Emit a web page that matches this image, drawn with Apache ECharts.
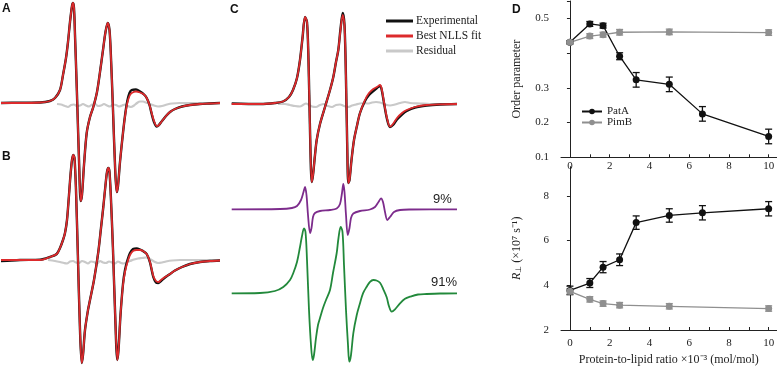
<!DOCTYPE html>
<html>
<head>
<meta charset="utf-8">
<script src="https://cdn.jsdelivr.net/npm/echarts@6/dist/echarts.min.js"></script>
<style>
  html, body { margin: 0; background: #fff; }
  #chart { width: 780px; height: 367px; }
</style>
</head>
<body>
<div id="chart"></div>
<script>
// EPR spectra, [field, intensity above the trace baseline]
const fitA = [[1,0],[20,0],[40,0.5],[50,2],[55,5],[60,13],[63,28],[66,45],[68,61],[70,81],[72,97],[73,100],[74,95],[75,68],[77,8],[79,-57],[80.7,-98],[82,-92],[84,-62],[86.7,-30],[90,-14],[93.3,-4],[97,11],[100,31],[103,53],[105.5,71],[107.7,80],[109.5,73],[111,45],[113,-7],[115,-62],[116.7,-89],[118,-83],[120,-59],[123.3,-27],[125.5,-10],[127.3,0],[129.5,7],[131.7,10],[136,11.5],[140,10.5],[144,8.5],[146.7,5],[149.5,-2],[151.7,-10],[154,-18],[156.7,-23],[158.5,-22.5],[162,-18],[166,-13],[170,-9],[175,-6],[182,-3.5],[190,-2],[200,-1],[210,-0.5],[220,0]];
const expA = [[1,0],[20,0.3],[40,0.5],[50,2],[55,5],[60,13],[63,28],[66,45],[68,61],[70,81],[72,97],[73,100],[74,95],[75,68],[77,8],[79,-57],[80.7,-98],[82,-92],[84,-62],[86.7,-30],[90,-14],[93.3,-4],[97,11],[100,31],[103,53],[105.5,71],[107.7,80],[109.5,73],[111,45],[113,-7],[115,-62],[116.7,-89],[118,-83],[120,-59],[123.3,-27],[125.5,-9],[127.3,2],[129.5,10],[131.7,13],[136,13.5],[140,11.5],[144,8.5],[146.7,5],[149.5,-2],[151.7,-11],[154,-19],[156.7,-23.5],[158.5,-22.5],[162,-18],[166,-13],[170,-9],[175,-6],[182,-3.5],[190,-2],[200,-1],[210,-0.5],[220,0]];
const resA = [[57,-1],[61,-1.5],[65,-3],[68,-4],[71,-2],[74,-1.5],[77,-3],[80,-2.5],[83,-1],[86,-2.5],[89,-3.5],[92,-1.5],[95,-1],[98,-3],[101,-2.5],[104,-1],[107,-2.5],[110,-3.5],[113,-1.5],[116,-2],[119,-3.5],[122,-2.5],[125,-1.5],[128,-3],[131,-4],[134,-2.5],[137,0],[140,1.5],[143,1.5],[146,0.5],[150,-1],[154,-2.5],[158,-3.5],[162,-3],[167,-1.5],[172,-0.5],[180,0],[190,0],[200,0],[210,0],[219,0]];

const fitB = [[1,0],[20,0],[40,0],[50,3],[56.7,6],[60,12],[63,20],[65,27],[67,40],[69,65],[70.5,85],[72,100],[73.3,105],[74.5,102],[76,70],[78,0],[80,-70],[81.7,-103],[83,-95],[85,-70],[88,-50],[90,-40],[94,-20],[98.3,8],[101,32],[103.3,53],[105.5,75],[107,88],[108.3,92],[109.5,88],[111,60],[113,10],[115,-50],[117.3,-100],[118.5,-90],[120.5,-55],[123,-25],[125,-12],[127.5,-2],[130,5],[133,9],[136.7,10],[140,10],[143,9],[146.7,6],[150,-2],[153.3,-16],[156,-21],[158.3,-22],[161,-20],[165,-17],[170,-14],[175,-10.5],[182,-7],[190,-4],[200,-2],[210,-1],[220,-0.5]];
const expB = [[1,-1],[20,0],[40,0.3],[50,3],[56.7,6],[60,12],[63,20],[65,27],[67,40],[69,65],[70.5,85],[72,100],[73.3,105],[74.5,102],[76,70],[78,0],[80,-70],[81.7,-103],[83,-95],[85,-70],[88,-50],[90,-40],[94,-20],[98.3,8],[101,32],[103.3,53],[105.5,75],[107,88],[108.3,92],[109.5,88],[111,60],[113,10],[115,-50],[117.3,-100],[118.5,-90],[120.5,-55],[123,-24],[125,-10],[127.5,0],[130,7],[133,11],[136.7,11.5],[140,10.5],[143,9],[146.7,6],[150,-2.5],[153.3,-17],[156,-22.5],[158.3,-23],[161,-21],[165,-17.5],[170,-14],[175,-10.5],[182,-7],[190,-4],[200,-2],[210,-1],[220,-0.5]];
const resB = [[48,0],[55,-1],[60,-2],[64,-3],[67,-3.5],[70,-1.5],[73,-1],[76,-2.5],[79,-3],[82,-1],[85,-2],[88,-3.5],[91,-1.5],[94,-2],[97,-3.5],[100,-1],[103,-2.5],[106,-3],[109,-1.5],[112,-2.5],[115,-3.5],[118,-1.5],[121,-3],[124,-3.5],[127,-2],[130,-1],[134,0.5],[138,1.5],[142,2],[146,2.5],[150,1],[154,-1.5],[158,-3],[162,-2.5],[166,-1.5],[172,-0.5],[180,0],[200,0],[220,0]];

const fitC = [[231.7,0],[260,0],[275,1],[283,2.5],[289,7],[293,14],[297,26],[300,44],[302.5,66],[305,87],[307,82],[308.5,44],[310,-26],[311.7,-78],[313,-71],[315,-51],[316.7,-36],[320,-20],[325,-3],[330,14],[333.3,27],[336,42],[338.3,54],[340.5,74],[342.7,89],[344.5,79],[346,24],[347.3,-46],[348.3,-79],[349.5,-76],[351.5,-56],[354,-36],[356.7,-23],[360,-9],[365,4],[369,11],[373.3,15],[377,17],[380,19],[381.5,16],[384,2],[387,-14],[390,-22.7],[393,-20],[397,-14],[402,-9],[406.7,-6],[415,-3],[426.7,-1],[440,-0.3],[457,0]];
const expC = [[231.7,0.5],[260,0],[275,1],[283,2.5],[289,7],[293,14],[297,26],[300,44],[302.5,66],[305,87],[307,82],[308.5,44],[310,-26],[311.7,-78],[313,-71],[315,-51],[316.7,-36],[320,-20],[325,-3],[330,14],[333.3,27],[336,42],[338.3,54],[340.5,75],[342.7,91],[344.5,79],[346,24],[347.3,-46],[348.3,-79],[349.5,-76],[351.5,-56],[354,-36],[356.7,-23],[360,-9],[365,3],[369,9],[373.3,13],[377,16],[380,18],[381.5,15],[384,1],[387,-15],[390,-23],[393,-21],[397,-15.5],[402,-10.5],[406.7,-7],[415,-3.5],[426.7,-1.5],[440,-0.5],[457,0]];
const resC = [[278,0],[285,0],[290,-1],[295,-2],[300,-2.5],[303,-1],[306,0.5],[309,-1],[312,-2.5],[316,-3],[320,-1],[324,0],[328,-2],[332,-3],[336,-1],[340,-0.5],[344,-2],[348,-3],[352,-1.5],[356,-0.5],[360,0.5],[364,1],[368,0.5],[372,1.5],[376,2],[380,1.5],[385,-0.5],[390,-1.5],[395,-0.5],[400,1],[405,2],[410,1],[420,0.5],[430,0],[445,0],[457,0]];

// simulated components (9% and 91%)
const comp9 = [[231.7,0],[280,0.3],[292,1.3],[297,3.3],[301,9.3],[303.5,17.3],[305,22.3],[306.5,14.3],[308,-5.7],[310,-23.7],[311.5,-18.7],[313,-7.7],[315,-3.7],[320,-1.7],[330,-0.7],[336.7,0.8],[340,5.3],[342,16.3],[343.3,25.3],[344.5,17.3],[346,-5.7],[347.7,-25.7],[349.5,-18.7],[351,-8.7],[353.3,-4.2],[360,-1.7],[370,-0.2],[375,2.3],[378.5,7.3],[381,11],[383,7.3],[385,-2.7],[387.3,-10.7],[390,-7.7],[394,-2.7],[400,-0.7],[410,-0.2],[457,0]];
const comp91 = [[231.7,0],[260,0.3],[275,2.3],[283.3,6.3],[290,13.3],[293.3,20.3],[297,31.3],[300,46.3],[302,57.3],[304,65],[305.5,61.3],[307,33.3],[309,-16.7],[311,-51.7],[312.7,-66.7],[314,-61.7],[316,-44.7],[318,-31.7],[320,-24.7],[323,-14.7],[326,-6.7],[330,3.3],[333,20.3],[336.7,40.3],[338.5,55.3],[340.7,66.3],[342.5,61.3],[344,28.3],[346,-16.7],[348,-51.7],[349.3,-68.4],[351,-61.7],[353.3,-40],[356.7,-22],[360,-10],[363,0],[366.7,6.6],[370,11.5],[373.3,13.3],[376.5,12.8],[380,10.6],[383.3,4],[386.7,-4],[389,-13],[391.7,-18.4],[395,-16],[400,-10],[405,-5.5],[410,-3.4],[418,-1.2],[426.7,-0.7],[440,-0.2],[457,0]];

// panel D
const ratioPatA = [0, 1, 1.667, 2.5, 3.333, 5, 6.667, 10];
const ratioPimB = [0, 1, 1.667, 2.5, 5, 10];
const orderPatA = [0.431, 0.484, 0.479, 0.391, 0.323, 0.310, 0.225, 0.160];
const orderPatAErr = [0.005, 0.007, 0.007, 0.010, 0.021, 0.021, 0.021, 0.021];
const orderPimB = [0.431, 0.449, 0.453, 0.460, 0.461, 0.459];
const orderPimBErr = [0.004, 0.007, 0.007, 0.008, 0.008, 0.008];
const ratePatA = [3.77, 4.10, 4.81, 5.14, 6.80, 7.12, 7.24, 7.42];
const ratePatAErr = [0.19, 0.20, 0.25, 0.26, 0.30, 0.30, 0.32, 0.32];
const ratePimB = [3.73, 3.37, 3.18, 3.11, 3.06, 2.96];
const ratePimBErr = [0.12, 0.12, 0.12, 0.12, 0.12, 0.12];
const ratioTicks = [0, 2, 4, 6, 8, 10];
const ratioMinorTicks = [0, 1, 2, 3, 4, 5, 6, 7, 8, 9, 10];
const orderTicks = [0.1, 0.2, 0.3, 0.5];
const rateTicks = [2, 4, 6, 8];

const RED = "#dc2a2c", BLACK = "#111", GREY = "#c9c9c9";
const PURPLE = "#7d2c8c", GREEN = "#22893b";
const DARK = "#111", LIGHT = "#8f8f8f";
const SERIF = "'Liberation Serif', 'Times New Roman', serif";
const SANS = "'Liberation Sans', Arial, sans-serif";

function spec(name, data, x, y, color, width, z, smooth = 0.3) {
  return {
    name, type: "line", data, xAxisIndex: x, yAxisIndex: y,
    showSymbol: false, symbol: "none", smooth, silent: true, z,
    lineStyle: { color, width }, itemStyle: { color },
  };
}

function errBars(xs, ys, es, color, x, y) {
  return {
    type: "custom", xAxisIndex: x, yAxisIndex: y, silent: true, z: 4,
    data: xs.map((v, i) => [v, ys[i] - es[i], ys[i] + es[i]]),
    renderItem: (params, api) => {
      const lo = api.coord([api.value(0), api.value(1)]);
      const hi = api.coord([api.value(0), api.value(2)]);
      const w = 3.5, style = { stroke: color, lineWidth: 1.3 };
      return {
        type: "group",
        children: [
          { type: "line", shape: { x1: lo[0], y1: lo[1], x2: hi[0], y2: hi[1] }, style },
          { type: "line", shape: { x1: lo[0] - w, y1: lo[1], x2: lo[0] + w, y2: lo[1] }, style },
          { type: "line", shape: { x1: hi[0] - w, y1: hi[1], x2: hi[0] + w, y2: hi[1] }, style },
        ],
      };
    },
  };
}

function pts(name, xs, ys, color, x, y) {
  return {
    name, type: "line", data: xs.map((v, i) => [v, ys[i]]), xAxisIndex: x, yAxisIndex: y,
    symbol: "circle", symbolSize: 7, silent: true, z: 5,
    lineStyle: { color, width: 1.3 }, itemStyle: { color },
  };
}

const hiddenX = (grid, min, max) => ({ gridIndex: grid, type: "value", min, max, show: false });
const hiddenY = (grid, min, max) => ({ gridIndex: grid, type: "value", min, max, show: false });

const axisFont = { fontFamily: SERIF, fontSize: 11, color: "#222" };
const ratioAxis = (grid, name) => ({
  gridIndex: grid, type: "value", min: -0.45, max: 10.4,
  name, nameLocation: "middle", nameGap: 24,
  nameTextStyle: { fontFamily: SERIF, fontSize: 12, color: "#222" },
  axisLine: { onZero: false, lineStyle: { color: "#222", width: 1 } },
  axisTick: { inside: true, length: 3, customValues: ratioMinorTicks, lineStyle: { color: "#222" } },
  axisLabel: { ...axisFont, customValues: ratioTicks, margin: grid === 2 ? 3 : 8 },
  splitLine: { show: false },
});

const chart = echarts.init(document.getElementById("chart"), null, { renderer: "canvas" });
chart.setOption({
  animation: false,
  backgroundColor: "#fff",
  grid: [
    { left: 0, top: 0, width: 220, height: 367 },
    { left: 220, top: 0, width: 310, height: 367 },
    { left: 561, top: 1, width: 215.6, height: 156.3 },
    { left: 561, top: 166.7, width: 215.6, height: 165 },
  ],
  xAxis: [
    hiddenX(0, 0, 220),
    hiddenX(1, 220, 530),
    ratioAxis(2, ""),
    ratioAxis(3, "Protein-to-lipid ratio ×10⁻³ (mol/mol)"),
  ],
  yAxis: [
    hiddenY(0, -264, 103),
    hiddenY(0, -107, 260),
    hiddenY(1, -263, 104),
    hiddenY(1, -157.7, 209.3),
    hiddenY(1, -73.7, 293.3),
    {
      gridIndex: 2, type: "value", min: 0.1, max: 0.55, interval: 0.1,
      name: "Order parameter", nameLocation: "middle", nameGap: 38,
      nameTextStyle: { fontFamily: SERIF, fontSize: 12, color: "#222" },
      axisLine: { lineStyle: { color: "#222" } },
      axisTick: { length: 3, lineStyle: { color: "#222" } },
      axisLabel: { ...axisFont, margin: 12, customValues: orderTicks },
      splitLine: { show: false },
    },
    {
      gridIndex: 3, type: "value", min: 2, max: 9.3, interval: 2,
      name: "{r|R}{s|⊥} (×10⁷ s⁻¹)", nameLocation: "middle", nameGap: 38,
      nameTextStyle: {
        fontFamily: SERIF, fontSize: 12, color: "#222",
        rich: {
          r: { fontFamily: SERIF, fontSize: 12, fontStyle: "italic", color: "#222" },
          s: { fontFamily: SERIF, fontSize: 8, color: "#222", padding: [5, 0, 0, 0] },
        },
      },
      axisLine: { lineStyle: { color: "#222" } },
      axisTick: { length: 3, customValues: rateTicks, lineStyle: { color: "#222" } },
      axisLabel: { ...axisFont, margin: 12, customValues: rateTicks },
      splitLine: { show: false },
    },
  ],
  legend: [
    {
      data: ["Experimental", "Best NLLS fit", "Residual"],
      orient: "vertical", left: 381, top: 10, itemWidth: 27, itemHeight: 3, itemGap: 3,
      icon: "rect", selectedMode: false,
      textStyle: { fontFamily: SERIF, fontSize: 11.5, color: "#222", padding: [0, 0, 0, -2] },
    },
    {
      data: ["PatA", "PimB"],
      orient: "vertical", left: 576, top: 101, itemWidth: 20, itemHeight: 7, itemGap: 0,
      selectedMode: false,
      textStyle: { fontFamily: SERIF, fontSize: 11, color: "#222" },
    },
  ],
  graphic: [
    { type: "text", left: 2, top: 3, style: { text: "A", font: `bold 12px ${SANS}`, fill: "#111" } },
    { type: "text", left: 2, top: 151, style: { text: "B", font: `bold 12px ${SANS}`, fill: "#111" } },
    { type: "text", left: 230, top: 4, style: { text: "C", font: `bold 12px ${SANS}`, fill: "#111" } },
    { type: "text", left: 512, top: 4, style: { text: "D", font: `bold 12px ${SANS}`, fill: "#111" } },
    { type: "text", left: 433, top: 193, style: { text: "9%", font: `13px ${SANS}`, fill: "#222" } },
    { type: "text", left: 431, top: 276, style: { text: "91%", font: `13px ${SANS}`, fill: "#222" } },
  ],
  series: [
    spec("Residual", resA, 0, 0, GREY, 2.2, 1),
    spec("Experimental", expA, 0, 0, BLACK, 2.4, 2),
    spec("Best NLLS fit", fitA, 0, 0, RED, 1.8, 3),
    spec("Residual", resB, 0, 1, GREY, 2.2, 1),
    spec("Experimental", expB, 0, 1, BLACK, 2.4, 2),
    spec("Best NLLS fit", fitB, 0, 1, RED, 1.8, 3),
    spec("Residual", resC, 1, 2, GREY, 2.2, 1),
    spec("Experimental", expC, 1, 2, BLACK, 2.4, 2),
    spec("Best NLLS fit", fitC, 1, 2, RED, 1.8, 3),
    spec("9%", comp9, 1, 3, PURPLE, 1.8, 2),
    spec("91%", comp91, 1, 4, GREEN, 1.8, 2, 0.35),
    pts("PatA", ratioPatA, orderPatA, DARK, 2, 5),
    pts("PimB", ratioPimB, orderPimB, LIGHT, 2, 5),
    errBars(ratioPatA, orderPatA, orderPatAErr, DARK, 2, 5),
    errBars(ratioPimB, orderPimB, orderPimBErr, LIGHT, 2, 5),
    pts("PatA", ratioPatA, ratePatA, DARK, 3, 6),
    pts("PimB", ratioPimB, ratePimB, LIGHT, 3, 6),
    errBars(ratioPatA, ratePatA, ratePatAErr, DARK, 3, 6),
    errBars(ratioPimB, ratePimB, ratePimBErr, LIGHT, 3, 6),
  ],
});
</script>
</body>
</html>
